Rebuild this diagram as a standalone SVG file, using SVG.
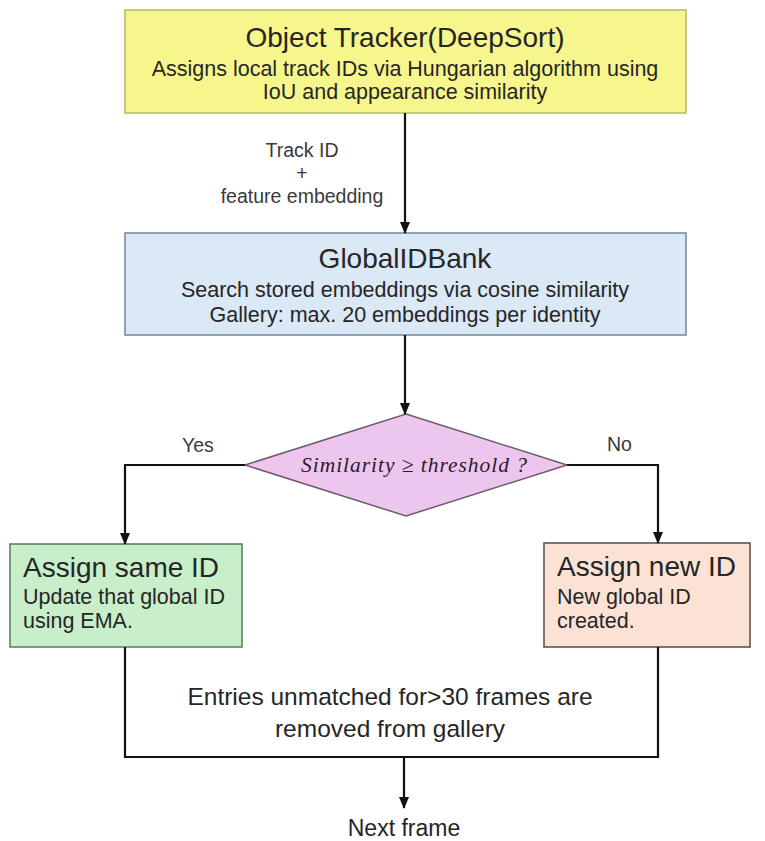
<svg xmlns="http://www.w3.org/2000/svg" width="765" height="841" viewBox="0 0 765 841">
  <style>
    text { font-family: "Liberation Sans", Arial, sans-serif; fill: #262626; }
    .title { font-size: 28px; }
    .sub { font-size: 21.5px; }
    .mid { text-anchor: middle; }
    .lbl { font-size: 19.5px; fill: #3a3a3a; }
    .note { font-size: 24.5px; }
    .cond { font-family: "Liberation Serif", "DejaVu Serif", serif; font-style: italic; font-size: 21.5px; fill: #2e1a2e; }
    .wire { fill: none; stroke: #111; stroke-width: 2.2; }
  </style>
  <defs>
    <marker id="arrow" markerUnits="userSpaceOnUse" markerWidth="12" markerHeight="12" viewBox="0 0 12 12" refX="11" refY="6" orient="auto">
      <path d="M0,1 L12,6 L0,11 Z" fill="#111"/>
    </marker>
  </defs>

  <!-- tracker stage -->
  <g id="tracker">
    <rect x="125" y="10" width="561" height="103" fill="#f6f68c" stroke="#b9b964" stroke-width="1.5"/>
    <text class="title mid" x="405" y="47">Object Tracker(DeepSort)</text>
    <text class="sub mid" x="405" y="76">Assigns local track IDs via Hungarian algorithm using</text>
    <text class="sub mid" x="405" y="99">IoU and appearance similarity</text>
  </g>

  <!-- global identity bank -->
  <g id="bank">
    <rect x="125" y="233" width="561" height="102" fill="#dbe8f5" stroke="#6f86a0" stroke-width="1.5"/>
    <text class="title mid" x="405" y="268">GlobalIDBank</text>
    <text class="sub mid" x="405" y="297">Search stored embeddings via cosine similarity</text>
    <text class="sub mid" x="405" y="322">Gallery: max. 20 embeddings per identity</text>
  </g>

  <!-- similarity test -->
  <g id="decision">
    <polygon points="406,414 567,465 406,516 245,465" fill="#ecc6ec" stroke="#6e5a6e" stroke-width="1.5"/>
    <text class="cond mid" x="414" y="472" textLength="226">Similarity ≥ threshold ?</text>
  </g>

  <!-- matched branch -->
  <g id="same-id">
    <rect x="10" y="544" width="232" height="103" fill="#c8efca" stroke="#4f7f55" stroke-width="1.5"/>
    <text class="title" x="23" y="577">Assign same ID</text>
    <text class="sub" x="23" y="604">Update that global ID</text>
    <text class="sub" x="23" y="628">using EMA.</text>
  </g>

  <!-- unmatched branch -->
  <g id="new-id">
    <rect x="544" y="543" width="206" height="104" fill="#fbe2d5" stroke="#5a4a45" stroke-width="1.5"/>
    <text class="title" x="557" y="576">Assign new ID</text>
    <text class="sub" x="557" y="604">New global ID</text>
    <text class="sub" x="557" y="628">created.</text>
  </g>

  <!-- outcome -->
  <g id="next-frame">
    <text class="note mid" x="404" y="836" style="font-size:23px">Next frame</text>
  </g>

  <!-- connectors -->
  <g id="connectors">
    <line class="wire" x1="405" y1="113" x2="405" y2="233" marker-end="url(#arrow)"/>
    <line class="wire" x1="405" y1="335" x2="405" y2="414" marker-end="url(#arrow)"/>
    <polyline class="wire" points="245,465 125,465 125,544" marker-end="url(#arrow)"/>
    <polyline class="wire" points="567,465 658,465 658,543" marker-end="url(#arrow)"/>
    <polyline class="wire" points="125,647 125,757 658,757 658,647"/>
    <line class="wire" x1="404" y1="757" x2="404" y2="808" marker-end="url(#arrow)"/>

    <text class="lbl mid" x="302" y="157">Track ID</text>
    <text class="lbl mid" x="302" y="180">+</text>
    <text class="lbl mid" x="302" y="203">feature embedding</text>
    <text class="lbl" x="182" y="452">Yes</text>
    <text class="lbl" x="607" y="451">No</text>
    <text class="note mid" x="390" y="705">Entries unmatched for&gt;30 frames are</text>
    <text class="note mid" x="390" y="737">removed from gallery</text>
  </g>
</svg>
